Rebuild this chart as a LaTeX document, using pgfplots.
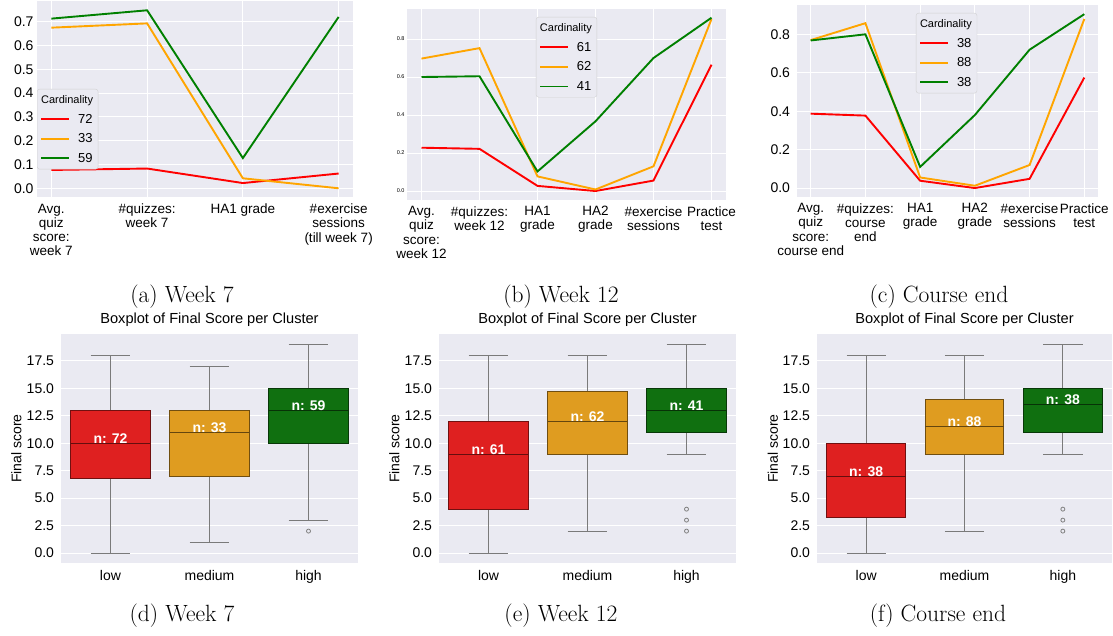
\documentclass[border=0pt]{standalone}
\usepackage{fontspec}
\usepackage{pgfplots}
\pgfplotsset{compat=1.18}
\usepgfplotslibrary{statistics}
\newfontfamily\arial{Liberation Sans}
\definecolor{sbbg}{HTML}{EAEAF2}
\definecolor{cred}{HTML}{FF0000}
\definecolor{corange}{HTML}{FFA500}
\definecolor{cgreen}{HTML}{008000}
\definecolor{bred}{HTML}{DF2020}
\definecolor{borange}{HTML}{DF9C20}
\definecolor{bgreen}{HTML}{107010}
\definecolor{whisk}{HTML}{7A7A7A}

\tikzset{nlab/.style={anchor=base, text=white, font=\arial\bfseries\fontsize{14}{16}\selectfont}}

\pgfplotsset{
  sbbase/.style={
    scale only axis, anchor=south west,
    axis background/.style={fill=sbbg},
    axis line style={draw=none}, tick style={draw=none},
    major grid style={white, line width=1pt},
    /pgf/number format/assume math mode=true,
    yticklabel style={/pgf/number format/fixed, /pgf/number format/fixed zerofill, /pgf/number format/precision=1},
  },
  sbline/.style={
    sbbase, grid=major,
    xticklabel style={align=center, font=\arial\fontsize{13.5}{14.3}\selectfont, yshift=-3pt},
    yticklabel style={font=\arial\fontsize{14}{16}\selectfont},
    legend style={fill=sbbg, draw=black!18, rounded corners=2.5pt,
      font=\arial\fontsize{13}{15}\selectfont, row sep=0pt, column sep=6pt,
      inner xsep=3pt, inner ysep=1pt,
      nodes={inner xsep=2pt, inner ysep=3.5pt, text height=10pt, text depth=2.5pt}},
    legend cell align=left,
    legend image code/.code={\draw[#1] (0pt,0pt) -- (28pt,0pt);},
    every axis plot/.append style={line width=1.9pt},
  },
  sbbox/.style={
    sbbase, ymajorgrids,
    xmin=-0.5, xmax=2.5, ymin=-0.95, ymax=19.95,
    xtick={0,1,2}, xticklabels={low,medium,high},
    ytick={0,2.5,5,7.5,10,12.5,15,17.5},
    xticklabel style={font=\arial\fontsize{14}{16}\selectfont, yshift=-3.8pt},
    yticklabel style={font=\arial\fontsize{14}{16}\selectfont, xshift=-3.5pt},
    ylabel={Final score},
    ylabel style={font=\arial\fontsize{14}{16}\selectfont, at={(axis description cs:-0.15,0.5)}, anchor=center},
    title={Boxplot of Final Score per Cluster},
    title style={font=\arial\fontsize{14.6}{16}\selectfont, at={(axis description cs:0.5,1)}, anchor=base, yshift=4.7pt},
    width=297pt, height=229.5pt,
    boxplot/draw direction=y,
  },
  bx/.style={boxplot/draw direction=y,
     boxplot/every box/.style={fill=#1, draw=#1!50!black, line width=1.1pt},
     boxplot/every median/.style={draw=#1!45!black, line width=1.1pt},
     boxplot/every whisker/.style={draw=whisk, line width=1.1pt},
     draw=whisk, line width=1.1pt},
  outl/.style={only marks, mark=o, mark size=2pt, mark options={draw=gray, line width=0.8pt}},
}

\begin{document}
\begin{tikzpicture}
\useasboundingbox (0,0) rectangle (1113pt,636pt);

% ---------------- (a)
\begin{axis}[sbline, at={(37pt,438.8pt)}, width=316pt, height=195.7pt,
  xmin=-0.15, xmax=3.15, ymin=-0.0374, ymax=0.785,
  xtick={0,1,2,3},
  xticklabels={{Avg.\\quiz\\score:\\week 7},{\#quizzes:\\week 7},{HA1 grade},{\#exercise\\sessions\\(till week 7)}},
  ytick={0,0.1,0.2,0.3,0.4,0.5,0.6,0.7},
  legend style={at={(axis description cs:0,0.553)}, anchor=north west}]
\addlegendimage{empty legend}
\addlegendentry{\hspace*{-37pt}\fontsize{11}{13}\selectfont Cardinality}
\addplot[cred] coordinates {(0,0.077) (1,0.083) (2,0.022) (3,0.062)};
\addlegendentry{72}
\addplot[corange] coordinates {(0,0.675) (1,0.693) (2,0.042) (3,0.0)};
\addlegendentry{33}
\addplot[cgreen] coordinates {(0,0.713) (1,0.748) (2,0.127) (3,0.720)};
\addlegendentry{59}
\end{axis}

% ---------------- (b)
\begin{axis}[sbline, at={(407pt,436.3pt)}, width=319pt, height=190.7pt,
  xmin=-0.25, xmax=5.25, ymin=-0.0456, ymax=0.958,
  xtick={0,1,2,3,4,5},
  xticklabels={{Avg.\\quiz\\score:\\week 12},{\#quizzes:\\week 12},{HA1\\grade},{HA2\\grade},{\#exercise\\sessions},{Practice\\test}},
  ytick={0,0.2,0.4,0.6,0.8},
  yticklabel style={font=\arial\fontsize{5.5}{7}\selectfont, xshift=1pt},
  legend style={at={(axis description cs:0.404,0.958)}, anchor=north west}]
\addlegendimage{empty legend}
\addlegendentry{\hspace*{-37pt}\fontsize{11}{13}\selectfont Cardinality}
\addplot[cred] coordinates {(0,0.228) (1,0.222) (2,0.027) (3,0.0) (4,0.055) (5,0.665)};
\addlegendentry{61}
\addplot[corange] coordinates {(0,0.697) (1,0.752) (2,0.077) (3,0.008) (4,0.130) (5,0.905)};
\addlegendentry{62}
\addplot[cgreen] coordinates {(0,0.600) (1,0.604) (2,0.103) (3,0.367) (4,0.700) (5,0.912)};
\addlegendentry{41}
\end{axis}

% ---------------- (c)
\begin{axis}[sbline, at={(797pt,439.3pt)}, width=301pt, height=191.2pt,
  xmin=-0.25, xmax=5.25, ymin=-0.045, ymax=0.950,
  xtick={0,1,2,3,4,5},
  xticklabels={{Avg.\\quiz\\score:\\course end},{\#quizzes:\\course\\end},{HA1\\grade},{HA2\\grade},{\#exercise\\sessions},{Practice\\test}},
  ytick={0,0.2,0.4,0.6,0.8},
  yticklabel style={xshift=-3.5pt},
  legend style={at={(axis description cs:0.395,0.961)}, anchor=north west}]
\addlegendimage{empty legend}
\addlegendentry{\hspace*{-37pt}\fontsize{11}{13}\selectfont Cardinality}
\addplot[cred] coordinates {(0,0.387) (1,0.377) (2,0.038) (3,0.0) (4,0.048) (5,0.575)};
\addlegendentry{38}
\addplot[corange] coordinates {(0,0.770) (1,0.858) (2,0.055) (3,0.012) (4,0.120) (5,0.880)};
\addlegendentry{88}
\addplot[cgreen] coordinates {(0,0.768) (1,0.800) (2,0.110) (3,0.380) (4,0.720) (5,0.905)};
\addlegendentry{38}
\end{axis}

% ---------------- (d)
\begin{axis}[sbbox, at={(61pt,72.5pt)}]
\addplot[bx=bred, boxplot prepared={draw position=0, lower whisker=0, lower quartile=6.75, median=10, upper quartile=13, upper whisker=18, box extend=0.8, whisker extend=0.4}] coordinates {};
\addplot[bx=borange, boxplot prepared={draw position=1, lower whisker=1, lower quartile=7, median=11, upper quartile=13, upper whisker=17, box extend=0.8, whisker extend=0.4}] coordinates {};
\addplot[bx=bgreen, boxplot prepared={draw position=2, lower whisker=3, lower quartile=10, median=13, upper quartile=15, upper whisker=19, box extend=0.8, whisker extend=0.4}] coordinates {};
\addplot[outl] coordinates {(2,2)};
\node[nlab] at (axis cs:0,10) {n: 72};
\node[nlab] at (axis cs:1,11) {n: 33};
\node[nlab] at (axis cs:2,13) {n: 59};
\end{axis}

% ---------------- (e)
\begin{axis}[sbbox, at={(439pt,72.5pt)}]
\addplot[bx=bred, boxplot prepared={draw position=0, lower whisker=0, lower quartile=4, median=9, upper quartile=12, upper whisker=18, box extend=0.8, whisker extend=0.4}] coordinates {};
\addplot[bx=borange, boxplot prepared={draw position=1, lower whisker=2, lower quartile=9, median=12, upper quartile=14.75, upper whisker=18, box extend=0.8, whisker extend=0.4}] coordinates {};
\addplot[bx=bgreen, boxplot prepared={draw position=2, lower whisker=9, lower quartile=11, median=13, upper quartile=15, upper whisker=19, box extend=0.8, whisker extend=0.4}] coordinates {};
\addplot[outl] coordinates {(2,2) (2,3) (2,4)};
\node[nlab] at (axis cs:0,9) {n: 61};
\node[nlab] at (axis cs:1,12) {n: 62};
\node[nlab] at (axis cs:2,13) {n: 41};
\end{axis}

% ---------------- (f)
\begin{axis}[sbbox, at={(817pt,72.5pt)}, width=295pt]
\addplot[bx=bred, boxplot prepared={draw position=0, lower whisker=0, lower quartile=3.25, median=7, upper quartile=10, upper whisker=18, box extend=0.8, whisker extend=0.4}] coordinates {};
\addplot[bx=borange, boxplot prepared={draw position=1, lower whisker=2, lower quartile=9, median=11.5, upper quartile=14, upper whisker=18, box extend=0.8, whisker extend=0.4}] coordinates {};
\addplot[bx=bgreen, boxplot prepared={draw position=2, lower whisker=9, lower quartile=11, median=13.5, upper quartile=15, upper whisker=19, box extend=0.8, whisker extend=0.4}] coordinates {};
\addplot[outl] coordinates {(2,2) (2,3) (2,4)};
\node[nlab] at (axis cs:0,7) {n: 38};
\node[nlab] at (axis cs:1,11.5) {n: 88};
\node[nlab] at (axis cs:2,13.5) {n: 38};
\end{axis}

% ---------------- captions
\begin{scope}[every node/.style={anchor=base, font=\fontsize{23.5}{28}\selectfont}]
\node at (182pt,333pt) {(a) Week 7};
\node at (561pt,333pt) {(b) Week 12};
\node at (939pt,333pt) {(c) Course end};
\node at (182pt,14pt) {(d) Week 7};
\node at (561pt,14pt) {(e) Week 12};
\node at (938pt,14pt) {(f) Course end};
\end{scope}
\end{tikzpicture}
\end{document}
